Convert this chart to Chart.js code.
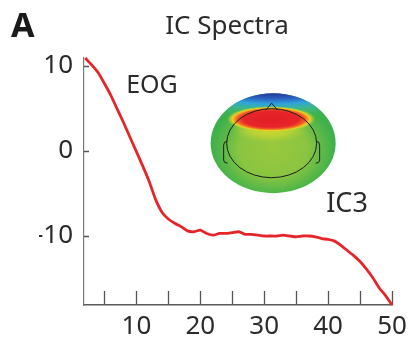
<!DOCTYPE html>
<html>
<head>
<meta charset="utf-8">
<script src="https://cdn.jsdelivr.net/npm/chart.js@4/dist/chart.umd.min.js"></script>
<style>
  html, body { margin: 0; padding: 0; background: #fff; }
  #wrap { width: 415px; height: 347px; }
</style>
</head>
<body>
<div id="wrap"><canvas id="spectra" width="415" height="347"></canvas></div>
<script>
// IC3 power spectrum (dB) against frequency (Hz)
const freqHz = [2, 3, 4, 5, 6, 7, 8, 9, 10, 11, 12, 13, 14, 15, 16, 17, 18, 19, 20, 21, 22, 23, 24, 25, 26,
  27, 28, 29, 30, 31, 32, 33, 34, 35, 36, 37, 38, 39, 40, 41, 42, 43, 44, 45, 46, 47, 48, 49, 50]
const powerDb = [10.9, 10.1, 9.2, 7.9, 6.5, 4.9, 3.3, 1.6, -0.1, -1.8, -3.6, -5.7, -7.2, -8.0, -8.5, -8.9,
  -9.4, -9.5, -9.3, -9.7, -9.9, -9.7, -9.7, -9.6, -9.5, -9.8, -9.8, -9.9, -10.0, -10.0, -10.0, -9.9, -10.0,
  -10.1, -10.0, -10.0, -10.1, -10.3, -10.4, -10.6, -11.1, -11.7, -12.3, -13.0, -13.9, -14.9, -16.1, -17.0, -18.1]

const xTickValues = [5, 10, 15, 20, 25, 30, 35, 40, 45, 50]
const xTickLabels = [10, 20, 30, 40, 50]
const yTickValues = [-10, 0, 10]

const TEXT = '#2b2b2b'
const FAMILY = '"Noto Sans", "Open Sans", sans-serif'
Chart.defaults.font.family = FAMILY

// ── Inward tick marks ─────────────────────────────────────────────────────────
const innerTicks = {
  id: 'innerTicks',
  beforeDatasetsDraw(chart) {
    const { ctx, scales: { x, y } } = chart
    ctx.save()
    ctx.strokeStyle = '#555'
    ctx.lineWidth = 1.3
    ctx.beginPath()
    x.ticks.forEach(t => {
      const px = Math.round(x.getPixelForValue(t.value)) + 0.5
      ctx.moveTo(px, y.bottom)
      ctx.lineTo(px, y.bottom - 14)
    })
    y.ticks.forEach(t => {
      const py = Math.round(y.getPixelForValue(t.value)) + 0.5
      ctx.moveTo(x.left, py)
      ctx.lineTo(x.left + 5, py)
    })
    ctx.stroke()
    ctx.restore()
  },
}

// ── Scalp map of the component ────────────────────────────────────────────────
function drawHead(ctx, cx, cy, rx, ry) {
  ctx.save()
  ctx.beginPath()
  ctx.ellipse(cx, cy, rx, ry, 0, 0, Math.PI * 2)
  ctx.clip()

  // base field: lime centre fading to green rim
  ctx.save()
  ctx.translate(cx, cy)
  ctx.scale(rx / ry, 1)
  let g = ctx.createRadialGradient(0, 6, 0, 0, 6, ry)
  g.addColorStop(0, '#99c83d')
  g.addColorStop(0.55, '#8ac541')
  g.addColorStop(0.8, '#5cb947')
  g.addColorStop(1, '#3bb04b')
  ctx.fillStyle = g
  ctx.fillRect(-ry * 2, -ry * 2, ry * 4, ry * 4)

  // negative pole along the frontal rim
  g = ctx.createRadialGradient(0, -200, ry * 3, 0, -200, ry * 3 + 34)
  g.addColorStop(0, '#26379a')
  g.addColorStop(0.15, '#2a5cbe')
  g.addColorStop(0.32, '#2ea3dd')
  g.addColorStop(0.5, 'rgba(60,185,150,0.8)')
  g.addColorStop(0.8, 'rgba(70,185,90,0)')
  ctx.fillStyle = g
  ctx.fillRect(-ry * 2, -ry * 2, ry * 4, ry * 4)
  ctx.restore()

  // yellow spill below the maximum
  ctx.save()
  ctx.translate(cx - 3, cy - 15)
  ctx.scale(2.6, 1)
  g = ctx.createRadialGradient(0, 0, 0, 0, 0, 15)
  g.addColorStop(0, 'rgba(240,215,35,0.9)')
  g.addColorStop(0.6, 'rgba(215,220,45,0.5)')
  g.addColorStop(1, 'rgba(190,215,55,0)')
  ctx.fillStyle = g
  ctx.beginPath()
  ctx.arc(0, 0, 15, 0, Math.PI * 2)
  ctx.fill()
  ctx.restore()

  // positive pole just behind the nose
  ctx.save()
  ctx.translate(cx - 2, cy - 24)
  ctx.scale(3.4, 1)
  g = ctx.createRadialGradient(0, 0, 0, 0, 0, 13)
  g.addColorStop(0, '#e31d25')
  g.addColorStop(0.62, '#e6252a')
  g.addColorStop(0.76, '#f05a25')
  g.addColorStop(0.88, '#f0cf1f')
  g.addColorStop(0.95, 'rgba(180,210,55,0.5)')
  g.addColorStop(1, 'rgba(160,205,60,0)')
  ctx.fillStyle = g
  ctx.beginPath()
  ctx.arc(0, 0, 13, 0, Math.PI * 2)
  ctx.fill()
  ctx.restore()
  ctx.restore()

  // head outline, nose and ears
  const hx = cx - 1.5, hrx = 45, hry = 34.5
  const top = cy - hry
  ctx.save()
  ctx.strokeStyle = '#1c1c1c'
  ctx.lineWidth = 1
  ctx.beginPath()
  ctx.ellipse(hx, cy, hrx, hry, 0, 0, Math.PI * 2)
  ctx.moveTo(hx - 6, top + 1.5)
  ctx.lineTo(hx, top - 5.5)
  ctx.lineTo(hx + 6, top + 1.5)
  ctx.stroke()
  // ears
  ctx.beginPath()
  ctx.moveTo(hx - hrx + 0.6, cy - 2)
  ctx.quadraticCurveTo(hx - hrx - 3, cy - 2, hx - hrx - 3, cy + 2)
  ctx.lineTo(hx - hrx - 3, cy + 17)
  ctx.quadraticCurveTo(hx - hrx - 3, cy + 20, hx - hrx + 1, cy + 20)
  ctx.moveTo(hx + hrx - 0.6, cy - 2)
  ctx.quadraticCurveTo(hx + hrx + 3, cy - 2, hx + hrx + 3, cy + 2)
  ctx.lineTo(hx + hrx + 3, cy + 17)
  ctx.quadraticCurveTo(hx + hrx + 3, cy + 20, hx + hrx - 1, cy + 20)
  ctx.stroke()
  ctx.restore()
}

const annotations = {
  id: 'annotations',
  afterDatasetsDraw(chart, args, opts) {
    const { ctx, scales: { x, y } } = chart
    const h = opts.head
    drawHead(ctx, x.getPixelForValue(h.x), y.getPixelForValue(h.y), h.rx, h.ry)

    ctx.save()
    ctx.fillStyle = TEXT
    ctx.textBaseline = 'alphabetic'
    ctx.textAlign = 'left'
    opts.labels.forEach(l => {
      ctx.font = `${l.size}px ${FAMILY}`
      ctx.fillText(l.text, x.getPixelForValue(l.x), y.getPixelForValue(l.y))
    })
    // panel title, centred over the plot
    ctx.textAlign = 'center'
    ctx.font = `26px ${FAMILY}`
    ctx.fillText(opts.title, 227, 34)
    // panel letter
    ctx.textAlign = 'left'
    ctx.fillStyle = '#1a1a1a'
    ctx.font = `bold 34px ${FAMILY}`
    ctx.fillText('A', 11, 37)
    ctx.restore()
  },
}

new Chart(document.getElementById('spectra'), {
  type: 'line',
  plugins: [innerTicks, annotations],
  data: {
    datasets: [{
      label: 'IC3',
      data: freqHz.map((f, i) => ({ x: f, y: powerDb[i] })),
      borderColor: '#e4262b',
      borderWidth: 2.8,
      pointRadius: 0,
      tension: 0.2,
      fill: false,
      clip: false,
    }],
  },
  options: {
    responsive: false,
    animation: false,
    events: [],
    layout: { padding: { left: 39, right: 23, top: 58, bottom: 0 } },
    plugins: {
      legend: { display: false },
      tooltip: { enabled: false },
      title: { display: false },
      annotations: {
        title: 'IC Spectra',
        head: { x: 31.4, y: 0.9, rx: 62.5, ry: 50 },
        labels: [
          { text: 'EOG', x: 8.4, y: 6.8, size: 25 },
          { text: 'IC3', x: 39.7, y: -7.2, size: 27 },
        ],
      },
    },
    scales: {
      x: {
        type: 'linear',
        min: 1.8,
        max: 50,
        afterBuildTicks: s => { s.ticks = xTickValues.map(v => ({ value: v })) },
        afterFit: s => { s.height = 42 },
        grid: { display: false, drawTicks: false },
        border: { display: true, color: '#5a5a5a', width: 1.6 },
        ticks: {
          color: TEXT,
          font: { family: FAMILY, size: 26 },
          padding: 6,
          maxRotation: 0,
          autoSkip: false,
          callback: v => (xTickLabels.includes(v) ? String(v) : ''),
        },
      },
      y: {
        type: 'linear',
        min: -18.1,
        max: 10.9,
        afterBuildTicks: s => { s.ticks = yTickValues.map(v => ({ value: v })) },
        afterFit: s => { s.width = 45 },
        grid: { display: false, drawTicks: false },
        border: { display: true, color: '#7a7a7a', width: 1.2 },
        ticks: {
          color: TEXT,
          font: { family: FAMILY, size: 26 },
          padding: 11,
          callback: v => String(v),
        },
      },
    },
  },
})
</script>
</body>
</html>
